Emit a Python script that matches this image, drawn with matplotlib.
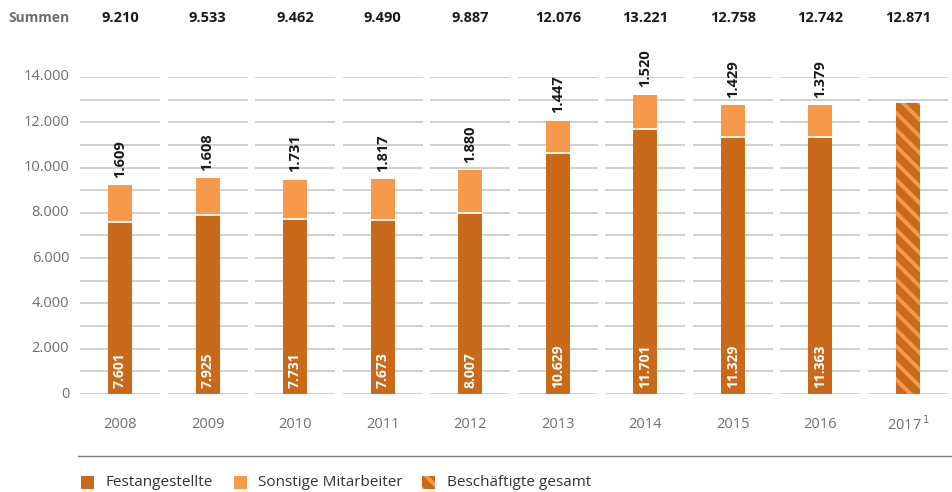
import matplotlib
matplotlib.use("Agg")
import matplotlib.pyplot as plt
from matplotlib.patches import Rectangle
from matplotlib.lines import Line2D

plt.rcParams['font.family'] = ['Open Sans', 'DejaVu Sans']
plt.rcParams['hatch.linewidth'] = 2.8

years = ['2008', '2009', '2010', '2011', '2012', '2013', '2014', '2015', '2016', '2017']
fest = [7601, 7925, 7731, 7673, 8007, 10629, 11701, 11329, 11363]
sonst = [1609, 1608, 1731, 1817, 1880, 1447, 1520, 1429, 1379]
summen = [9210, 9533, 9462, 9490, 9887, 12076, 13221, 12758, 12742, 12871]
gesamt_2017 = 12871
yticks = [0, 2000, 4000, 6000, 8000, 10000, 12000, 14000]
ytick_labels = ['0', '2.000', '4.000', '6.000', '8.000', '10.000', '12.000', '14.000']

DARK = '#c96a1a'
LIGHT = '#f6994a'
GRID = '#c4c4c4'
GRAYTXT = '#6e6e6e'

W, H = 953, 492
fig = plt.figure(figsize=(W / 100, H / 100), dpi=100)
ax_left, ax_right = 76.2, 951.8
ax_bot, ax_top = 394, 77
ax = fig.add_axes([ax_left / W, 1 - ax_bot / H, (ax_right - ax_left) / W, (ax_bot - ax_top) / H])
ax.set_xlim(-0.5, 9.5)
ax.set_ylim(0, 14000)
for s in ax.spines.values():
    s.set_visible(False)
ax.set_xticks([])
ax.set_yticks([])

n = len(years)
# segmented grid lines
for i in range(n):
    for v in range(0, 14001, 1000):
        ax.plot([i - 0.457, i + 0.457], [v, v], color=GRID, lw=1.1, zorder=1, solid_capstyle='butt')

bw = 0.275
xs = list(range(len(fest)))
ax.bar(xs, fest, width=bw, color=DARK, zorder=3)
ax.bar(xs, sonst, width=bw, bottom=fest, color=LIGHT, zorder=3)
# white separator
for i in xs:
    ax.plot([i - bw / 2, i + bw / 2], [fest[i], fest[i]], color='white', lw=1.3, zorder=4)

ax.bar([9], [gesamt_2017], width=bw, color=DARK, edgecolor=LIGHT, linewidth=0, hatch='\\\\', zorder=3)

for i in xs:
    ax.text(i, 260, f"{fest[i]:,}".replace(',', '.'), rotation=90, ha='center', va='bottom',
            color='white', fontsize=10, fontweight='bold', zorder=5)
    ax.text(i, fest[i] + sonst[i] + 330, f"{sonst[i]:,}".replace(',', '.'), rotation=90,
            ha='center', va='bottom', color='#1a1a1a', fontsize=10.5, fontweight='bold', zorder=5)

# y tick labels
for v, lab in zip(yticks, ytick_labels):
    ax.text(-0.58, v, lab, ha='right', va='center', color=GRAYTXT, fontsize=10.5)

# x labels
for i, y in enumerate(years):
    xc = (ax_left + (i + 0.5) * (ax_right - ax_left) / 10) / W
    if i == 9:
        fig.text(xc, 1 - 425 / H, y + r'$^{\,1}$', ha='center', va='center', color=GRAYTXT, fontsize=10.5)
    else:
        fig.text(xc, 1 - 425 / H, y, ha='center', va='center', color=GRAYTXT, fontsize=10.5)

# Summen row
fig.text(8 / W, 1 - 18 / H, 'Summen', ha='left', va='center', color=GRAYTXT, fontsize=10, fontweight='bold')
for i, s in enumerate(summen):
    fig.text((ax_left + (i + 0.5) * (ax_right - ax_left) / 10) / W, 1 - 18 / H,
             f"{s:,}".replace(',', '.'), ha='center', va='center', color='#1a1a1a',
             fontsize=10.5, fontweight='bold')

# separator line
fig.add_artist(Line2D([78 / W, 1.0], [1 - 456 / H, 1 - 456 / H], color='#7a7a7a', lw=1.0))

# legend
leg_items = [('Festangestellte', DARK, None, 81, 106),
             ('Sonstige Mitarbeiter', LIGHT, None, 234, 258),
             ('Beschäftigte gesamt', DARK, '\\\\', 422, 447)]
ly = 482
for label, col, hatch, sx, tx in leg_items:
    r = Rectangle((sx / W, 1 - (ly + 6.5) / H), 13 / W, 13 / H, transform=fig.transFigure,
                  facecolor=col, edgecolor=LIGHT if hatch else col, linewidth=0, hatch=hatch)
    fig.add_artist(r)
    fig.text(tx / W, 1 - ly / H, label, ha='left', va='center', color='#333333', fontsize=11)

fig.savefig('out.png', dpi=100)
